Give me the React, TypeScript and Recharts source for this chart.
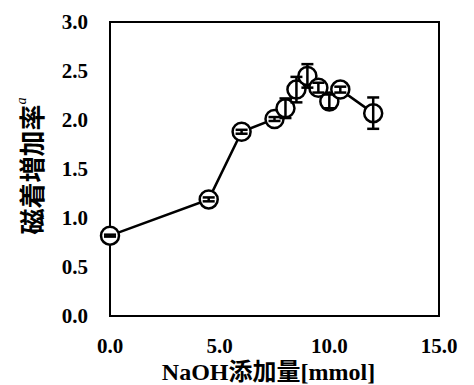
import { ComposedChart, Line, Scatter, ErrorBar, XAxis, YAxis, ReferenceArea } from 'recharts';

const naohMmol = [0, 4.5, 6, 7.5, 8, 8.5, 9, 9.5, 10, 10.5, 12];
const increaseRate = [0.82, 1.19, 1.88, 2.01, 2.12, 2.31, 2.45, 2.33, 2.19, 2.31, 2.07];
const rateError = [0.01, 0.02, 0.02, 0.02, 0.1, 0.13, 0.12, 0.05, 0.07, 0.03, 0.16];

const xTicks = [0, 5, 10, 15];
const yTicks = [0, 0.5, 1, 1.5, 2, 2.5, 3];

const data = naohMmol.map((x, i) => ({ x, y: increaseRate[i], err: rateError[i] }));

const serif = 'Liberation Serif';

type TickProps = { x?: number; y?: number; payload?: { value: number } };

function XTick({ x, y, payload }: TickProps) {
  return (
    <text x={x} y={y} dy="0.71em" textAnchor="middle" fontFamily={serif} fontWeight={700} fontSize={21} fill="#000">
      {Number(payload?.value).toFixed(1)}
    </text>
  );
}

function YTick({ x, y, payload }: TickProps) {
  return (
    <text x={x} y={y} dy="0.355em" textAnchor="end" fontFamily={serif} fontWeight={700} fontSize={21} fill="#000">
      {Number(payload?.value).toFixed(1)}
    </text>
  );
}

function NoShape() {
  return <g />;
}

type VB = { viewBox?: { x: number; y: number; width: number; height: number } };

function XTitle({ viewBox }: VB) {
  if (!viewBox) return null;
  const cx = viewBox.x + viewBox.width / 2 - 6;
  return (
    <text x={cx} y={380} textAnchor="middle" fontWeight={700} fontSize={24} fill="#000">
      <tspan fontFamily={serif}>NaOH</tspan>
      <tspan fontFamily="Noto Sans CJK JP">添加量</tspan>
      <tspan fontFamily={serif}>[mmol]</tspan>
    </text>
  );
}

function YTitle({ viewBox }: VB) {
  if (!viewBox) return null;
  const cx = 30;
  const cy = viewBox.y + viewBox.height / 2 - 3;
  return (
    <text
      x={cx}
      y={cy}
      transform={`rotate(-90, ${cx}, ${cy})`}
      textAnchor="middle"
      dominantBaseline="central"
      fontFamily="Noto Sans CJK JP"
      fontWeight={700}
      fontSize={26}
      fill="#000"
    >
      磁着増加率
      <tspan dy={-9} fontFamily={serif} fontStyle="italic" fontWeight={400} fontSize={14}>
        a
      </tspan>
    </text>
  );
}

export default function App() {
  return (
    <div style={{ position: 'absolute', left: 0, top: 0, background: '#fff' }}>
      <ComposedChart width={474} height={385} data={data} margin={{ top: 22, right: 35, bottom: 39, left: 0 }}>
        <XAxis
          type="number"
          dataKey="x"
          domain={[0, 15]}
          ticks={xTicks}
          axisLine={false}
          tickLine={false}
          tickSize={0}
          tickMargin={22}
          height={30}
          tick={<XTick />}
          interval={0}
          label={<XTitle />}
        />
        <YAxis
          type="number"
          domain={[0, 3]}
          ticks={yTicks}
          axisLine={false}
          tickLine={false}
          tickSize={0}
          tickMargin={22}
          width={110}
          tick={<YTick />}
          interval={0}
          label={<YTitle />}
        />
        <ReferenceArea x1={0} x2={15} y1={0} y2={3} fill="none" stroke="#000" strokeWidth={2} ifOverflow="visible" />
        <Line
          type="linear"
          dataKey="y"
          stroke="#000"
          strokeWidth={2.5}
          dot={{ r: 9, fill: '#fff', stroke: '#000', strokeWidth: 2.5 }}
          activeDot={false}
          isAnimationActive={false}
        />
        <Scatter dataKey="y" shape={<NoShape />} isAnimationActive={false} zIndex={1000}>
          <ErrorBar dataKey="err" direction="y" width={6} stroke="#000" strokeWidth={2.5} zIndex={1000} />
        </Scatter>
      </ComposedChart>
    </div>
  );
}
